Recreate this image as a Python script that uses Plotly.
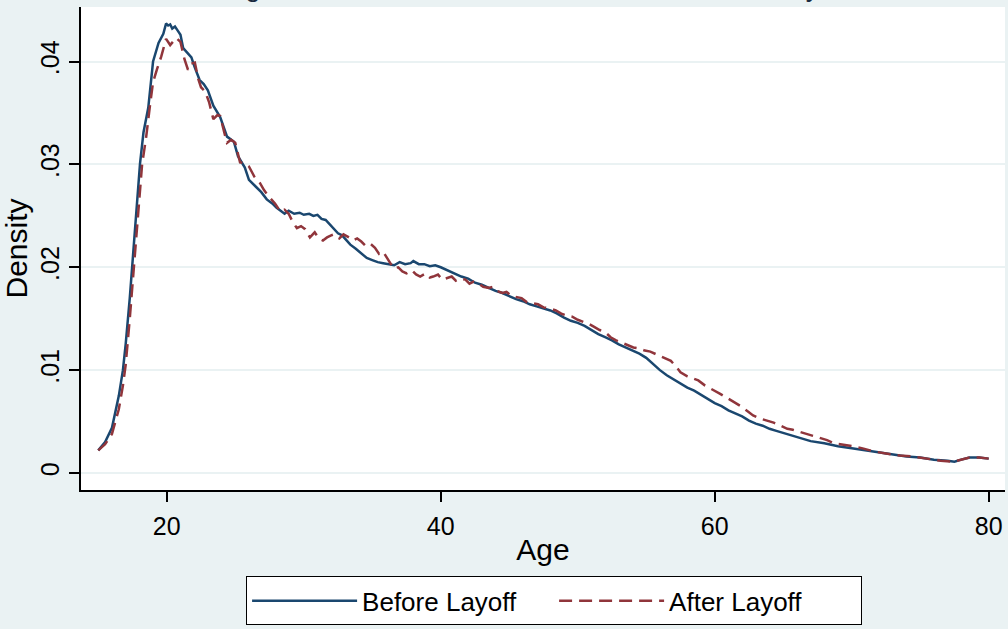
import plotly.graph_objects as go

# ---- data ----
age_before = [15.0, 15.5, 16.0, 16.5, 16.8, 17.0, 17.3, 17.6, 17.8, 18.05, 18.3, 18.65, 19.0, 19.4, 19.75,
              19.95, 20.1, 20.25, 20.4, 20.6, 20.8, 21.0, 21.2, 21.5, 21.8, 22.05, 22.4, 22.7, 23.0, 23.4,
              23.9, 24.4, 24.9, 25.2, 25.7, 26.0, 26.3, 26.9, 27.3, 27.7, 28.0, 28.3, 28.6, 28.9, 29.3,
              29.7, 30.0, 30.4, 30.7, 31.0, 31.3, 31.6, 31.9, 32.2, 32.5, 32.8, 33.1, 33.4, 33.8, 34.2,
              34.6, 35.0, 35.4, 35.8, 36.2, 36.6, 37.0, 37.4, 37.8, 38.0, 38.4, 38.8, 39.2, 39.6, 40.0,
              40.5, 41.0, 41.5, 42.0, 42.5, 43.0, 43.5, 44.0, 44.5, 45.0, 45.5, 46.0, 46.5, 47.0, 47.5,
              48.0, 48.5, 49.0, 49.5, 50.0, 50.5, 51.0, 51.5, 52.0, 52.5, 53.0, 53.5, 54.0, 54.5, 55.0,
              55.5, 56.0, 56.5, 57.0, 57.5, 58.0, 58.5, 59.0, 59.5, 60.0, 60.5, 61.0, 61.5, 62.0, 62.5,
              63.0, 63.5, 64.0, 64.5, 65.0, 65.5, 66.0, 67.0, 68.0, 69.0, 70.0, 71.0, 72.0, 73.0, 74.0,
              75.0, 76.0, 77.0, 77.5, 78.0, 78.6, 79.3, 80.0]
density_before = [.0022, .0030, .0044, .0075, .0100, .0125, .0170, .0225, .0262, .0301, .0331, .0355, .0400, .0418, .0427,
                  .0437, .0435, .0436, .0432, .0434, .0430, .0426, .0413, .0408, .0404, .0394, .0382, .0378, .0372, .0357,
                  .0346, .0327, .0322, .0308, .0297, .0285, .0281, .0273, .0266, .0262, .0258, .0255, .0252, .0255, .0252,
                  .0253, .0251, .0252, .0250, .0251, .0247, .0246, .0242, .0238, .0233, .0231, .0227, .0222, .0218, .0213,
                  .0209, .0207, .0205, .0204, .0203, .0202, .0205, .0203, .0204, .0206, .0203, .0203, .0201, .0202, .0200,
                  .0197, .0194, .0191, .0189, .0185, .0183, .0180, .0177, .0175, .0172, .0169, .0167, .0164, .0162, .0160,
                  .0158, .0155, .0151, .0148, .0146, .0143, .0139, .0135, .0132, .0129, .0125, .0122, .0119, .0116, .0112,
                  .0106, .0100, .0095, .0091, .0087, .0083, .0080, .0076, .0072, .0068, .0065, .0061, .0058, .0055, .0051,
                  .0048, .0046, .0043, .0041, .0039, .0037, .0035, .0031, .0029, .0026, .0024, .0022, .0020, .0018, .0016,
                  .0015, .0013, .0012, .0011, .0013, .0015, .0015, .0014]

age_after = [15.0, 15.5, 16.0, 16.5, 16.8, 17.0, 17.3, 17.6, 17.9, 18.2, 18.5, 18.8, 19.0, 19.3, 19.6,
             19.95, 20.1, 20.25, 20.5, 20.7, 21.0, 21.3, 21.55, 21.8, 22.05, 22.3, 22.5, 22.8, 23.1, 23.4,
             23.7, 23.9, 24.2, 24.4, 24.7, 25.0, 25.35, 25.7, 26.0, 26.4, 26.8, 27.1, 27.5, 27.9, 28.3,
             28.6, 28.9, 29.2, 29.5, 29.8, 30.1, 30.45, 30.8, 31.1, 31.4, 31.7, 32.0, 32.2, 32.6, 32.9,
             33.3, 33.6, 33.9, 34.2, 34.5, 34.85, 35.2, 35.5, 35.8, 36.2, 36.55, 36.9, 37.2, 37.5, 37.9,
             38.2, 38.5, 38.9, 39.2, 39.45, 39.8, 40.1, 40.4, 40.8, 41.1, 41.4, 41.8, 42.1, 42.4, 42.8,
             43.1, 43.5, 43.8, 44.1, 44.5, 44.8, 45.2, 45.5, 45.9, 46.3, 46.76, 47.1, 47.5, 47.97, 48.4,
             48.8, 49.2, 49.6, 50.0, 50.4, 50.8, 51.2, 51.6, 52.0, 52.4, 52.8, 53.2, 53.6, 54.06, 54.5,
             54.9, 55.3, 55.8, 56.2, 56.8, 57.2, 57.5, 58.0, 58.4, 58.8, 59.3, 59.9, 60.4, 60.9, 61.4,
             61.9, 62.4, 62.8, 63.3, 63.8, 64.3, 64.8, 65.3, 65.7, 66.2, 66.7, 67.2, 67.7, 68.2, 68.7,
             69.3, 70.1, 70.8, 71.6, 72.5, 73.5, 74.5, 75.5, 76.5, 77.4, 78.0, 78.6, 79.3, 80.0]
density_after = [.0022, .0028, .0038, .0062, .0085, .0105, .0150, .0205, .0250, .0300, .0327, .0360, .0380, .0393, .0405,
                 .0422, .0419, .0416, .0420, .0423, .0419, .0402, .0392, .0398, .0399, .0383, .0375, .0371, .0360, .0344,
                 .0348, .0347, .0331, .0321, .0324, .0321, .0302, .0301, .0298, .0288, .0282, .0275, .0268, .0262, .0254,
                 .0256, .0252, .0244, .0238, .0240, .0237, .0229, .0234, .0228, .0226, .0229, .0231, .0232, .0228, .0232,
                 .0229, .0226, .0228, .0225, .0221, .0223, .0219, .0213, .0215, .0207, .0199, .0200, .0196, .0194, .0197,
                 .0193, .0191, .0194, .0190, .0191, .0193, .0188, .0189, .0191, .0187, .0189, .0188, .0184, .0186, .0184,
                 .0181, .0180, .0181, .0177, .0175, .0176, .0172, .0171, .0170, .0166, .0165, .0164, .0161, .0160, .0158,
                 .0155, .0153, .0152, .0149, .0147, .0145, .0142, .0139, .0137, .0132, .0129, .0127, .0125, .0122, .0121,
                 .0119, .0118, .0115, .0112, .0109, .0103, .0098, .0094, .0092, .0090, .0085, .0081, .0077, .0073, .0069,
                 .0065, .0060, .0056, .0053, .0051, .0049, .0046, .0043, .0042, .0040, .0038, .0036, .0034, .0032, .0029,
                 .0028, .0026, .0024, .0021, .0019, .0017, .0016, .0014, .0012, .0011, .0013, .0015, .0015, .0014]

x_ticks = [20, 40, 60, 80]
y_ticks = [0, 0.01, 0.02, 0.03, 0.04]
y_ticklabels = ["0", ".01", ".02", ".03", ".04"]
title_text = "Age Distribution of Workers Before and After Layoff"

NAVY = "#1a476f"
MAROON = "#90353b"
BG = "#eaf2f3"
FONT = "Liberation Sans, Arial, sans-serif"
FS = 25

fig = go.Figure()
fig.add_trace(go.Scatter(x=age_before, y=density_before, mode="lines", name="Before Layoff",
                         line=dict(color=NAVY, width=2.5)))
fig.add_trace(go.Scatter(x=age_after, y=density_after, mode="lines", name="After Layoff",
                         line=dict(color=MAROON, width=2.5, dash="13px,7px")))

fig.update_layout(
    width=1008, height=629,
    margin=dict(l=81, r=3, t=7, b=137),
    paper_bgcolor=BG, plot_bgcolor="white",
    font=dict(family=FONT, size=FS, color="black"),
    showlegend=True,
    legend=dict(orientation="h", x=0.512, xanchor="center", y=-0.179, yanchor="top",
                bgcolor="white", bordercolor="black", borderwidth=1,
                font=dict(size=26), entrywidth=187, itemwidth=105),
    annotations=[dict(text=title_text, xref="paper", yref="paper", x=0.5, y=1,
                      xanchor="center", yanchor="bottom", yshift=3, xshift=-5,
                      showarrow=False, font=dict(size=27.5, color="#1a2a40"))],
)
fig.update_xaxes(range=[13.74, 81.19], tickvals=x_ticks, ticks="outside", ticklen=10, tickwidth=1.5,
                 tickcolor="black", showline=True, linecolor="black", linewidth=1.5, showgrid=False,
                 zeroline=False, title=dict(text="Age", standoff=0), tickfont=dict(size=FS),
                 ticklabelstandoff=3)
fig.update_yaxes(range=[-0.00165, 0.0453], tickvals=y_ticks, ticktext=y_ticklabels, tickangle=-90,
                 ticks="outside", ticklen=10, tickwidth=1.5, tickcolor="black", showline=True,
                 linecolor="black", linewidth=1.5, showgrid=True, gridcolor=BG, gridwidth=2,
                 zeroline=False, title=dict(text="Density", standoff=2), tickfont=dict(size=FS))

fig.write_html("out.html")
